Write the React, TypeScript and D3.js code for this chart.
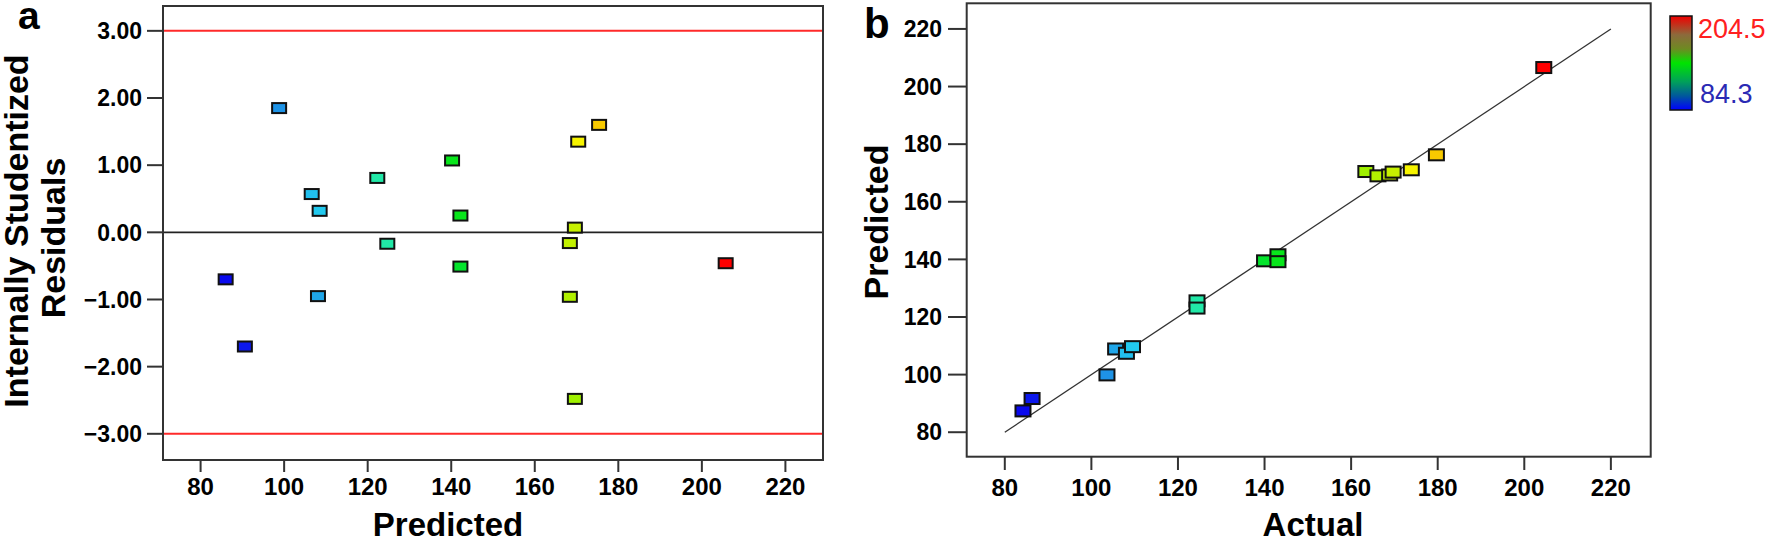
import React from 'react';
import * as d3 from 'd3';

// panel a: residuals vs predicted (actual kept for the colour)
const residPredicted = [86.0, 98.8, 106.6, 108.5, 108.1, 122.3, 124.7, 90.6, 140.2, 142.2, 142.2, 170.4, 175.4, 169.6, 168.4, 205.7, 168.4, 169.6];
const residValues = [-0.70, 1.85, 0.57, 0.32, -0.95, 0.81, -0.17, -1.70, 1.07, 0.25, -0.51, 1.35, 1.60, 0.07, -0.16, -0.46, -0.96, -2.48];
const residActual = [84.3, 103.6, 108.1, 109.5, 105.6, 124.4, 124.4, 86.3, 143.1, 143.1, 140.0, 173.9, 179.7, 169.7, 168.9, 204.5, 166.2, 163.4];

// panel b: predicted vs actual
const actualValues = [84.2, 86.3, 103.6, 105.6, 108.1, 109.5, 124.4, 124.4, 140.0, 143.1, 143.1, 163.4, 166.2, 168.9, 169.7, 173.9, 179.7, 204.5];
const predictedValues = [87.4, 91.7, 99.9, 108.9, 107.4, 109.7, 125.6, 123.1, 139.5, 141.6, 139.2, 170.5, 169.0, 169.3, 170.3, 171.1, 176.3, 206.6];

const residTicks = [-3, -2, -1, 0, 1, 2, 3];
const valueTicks = [80, 100, 120, 140, 160, 180, 200, 220];
const limitLines = [-3, 3];
const colorRange = [84.3, 204.5];

const colorStops = [84.3, 104, 109, 124, 142, 163, 170, 174, 180, 204.5];
const colorHexes = ['#0a0aee', '#1e96e6', '#22c8f0', '#22e8aa', '#00e41c', '#9cf000', '#c8f000', '#f8f400', '#f8c800', '#ff0000'];

const FONT = '"Liberation Sans", Arial, sans-serif';

export default function App() {
  const color = d3.scaleLinear<string>().domain(colorStops).range(colorHexes);

  // panel a scales
  const xa = d3.scaleLinear().domain([71, 229]).range([163, 823]);
  const ya = d3.scaleLinear().domain([-3.39, 3.37]).range([460, 6]);
  // panel b scales
  const xb = d3.scaleLinear().domain([71.2, 229.2]).range([966.7, 1650.7]);
  const yb = d3.scaleLinear().domain([71.5, 228.9]).range([456.7, 3.3]);

  const fmt = d3.format('.2f');
  const mw = 14, mh = 10;

  return (
    <svg width={1772} height={542} style={{ position: 'absolute', left: 0, top: 0, background: '#fff' }} fontFamily={FONT}>
      <defs>
        <linearGradient id="cbar" x1="0" y1="0" x2="0" y2="1">
          <stop offset="0" stopColor="#f00000" />
          <stop offset="0.2" stopColor="#8c6a3c" />
          <stop offset="0.35" stopColor="#6e8a22" />
          <stop offset="0.5" stopColor="#00e400" />
          <stop offset="0.7" stopColor="#00a05a" />
          <stop offset="0.85" stopColor="#00589c" />
          <stop offset="1" stopColor="#0000ff" />
        </linearGradient>
      </defs>

      {/* ---------- panel a ---------- */}
      <text x={18} y={29} fontSize={39} fontWeight="bold">a</text>
      {limitLines.map(v => (
        <line key={'r' + v} x1={xa.range()[0]} x2={xa.range()[1]} y1={ya(v)} y2={ya(v)} stroke="#ff2a2a" strokeWidth={2} />
      ))}
      <line x1={xa.range()[0]} x2={xa.range()[1]} y1={ya(0)} y2={ya(0)} stroke="#222" strokeWidth={1.6} />
      <rect x={163} y={6} width={660} height={454} fill="none" stroke="#333" strokeWidth={2} />
      {residTicks.map(t => (
        <g key={'ya' + t}>
          <line x1={147} x2={163} y1={ya(t)} y2={ya(t)} stroke="#333" strokeWidth={2} />
          <text x={142} y={ya(t)} dy="0.36em" textAnchor="end" fontSize={23} fontWeight="bold">{fmt(t)}</text>
        </g>
      ))}
      {valueTicks.map(t => (
        <g key={'xa' + t}>
          <line x1={xa(t)} x2={xa(t)} y1={460} y2={472} stroke="#333" strokeWidth={2} />
          <text x={xa(t)} y={495} textAnchor="middle" fontSize={24} fontWeight="bold">{t}</text>
        </g>
      ))}
      <text x={448} y={536} textAnchor="middle" fontSize={33} fontWeight="bold">Predicted</text>
      <text transform="translate(28,231) rotate(-90)" textAnchor="middle" fontSize={34} fontWeight="bold">Internally Studentized</text>
      <text transform="translate(65,238) rotate(-90)" textAnchor="middle" fontSize={34} fontWeight="bold">Residuals</text>
      {residPredicted.map((p, i) => (
        <rect key={'pa' + i} x={xa(p) - mw / 2} y={ya(residValues[i]) - mh / 2} width={mw} height={mh}
          fill={color(residActual[i])} stroke="#111" strokeWidth={2} />
      ))}

      {/* ---------- panel b ---------- */}
      <text x={864} y={38} fontSize={42} fontWeight="bold">b</text>
      <rect x={966.7} y={3.3} width={684} height={453.4} fill="none" stroke="#333" strokeWidth={2} />
      <line x1={xb(80)} y1={yb(80)} x2={xb(220)} y2={yb(220)} stroke="#333" strokeWidth={1.3} />
      {valueTicks.map(t => (
        <g key={'yb' + t}>
          <line x1={948} x2={966.7} y1={yb(t)} y2={yb(t)} stroke="#333" strokeWidth={2} />
          <text x={942} y={yb(t)} dy="0.36em" textAnchor="end" fontSize={23} fontWeight="bold">{t}</text>
        </g>
      ))}
      {valueTicks.map(t => (
        <g key={'xb' + t}>
          <line x1={xb(t)} x2={xb(t)} y1={456.7} y2={470} stroke="#333" strokeWidth={2} />
          <text x={xb(t)} y={496} textAnchor="middle" fontSize={24} fontWeight="bold">{t}</text>
        </g>
      ))}
      <text x={1313} y={536} textAnchor="middle" fontSize={33} fontWeight="bold">Actual</text>
      <text transform="translate(888,222) rotate(-90)" textAnchor="middle" fontSize={34} fontWeight="bold">Predicted</text>
      {actualValues.map((a, i) => (
        <rect key={'pb' + i} x={xb(a) - 7.5} y={yb(predictedValues[i]) - 5.5} width={15} height={11}
          fill={color(a)} stroke="#111" strokeWidth={2} />
      ))}

      {/* colour bar */}
      <rect x={1670} y={16} width={22} height={94} fill="url(#cbar)" stroke="#111" strokeWidth={1.5} />
      <text x={1698} y={38} fontSize={27} fill="#ff2020">{colorRange[1]}</text>
      <text x={1700} y={103} fontSize={27} fill="#2a2ab4">{colorRange[0]}</text>
    </svg>
  );
}
